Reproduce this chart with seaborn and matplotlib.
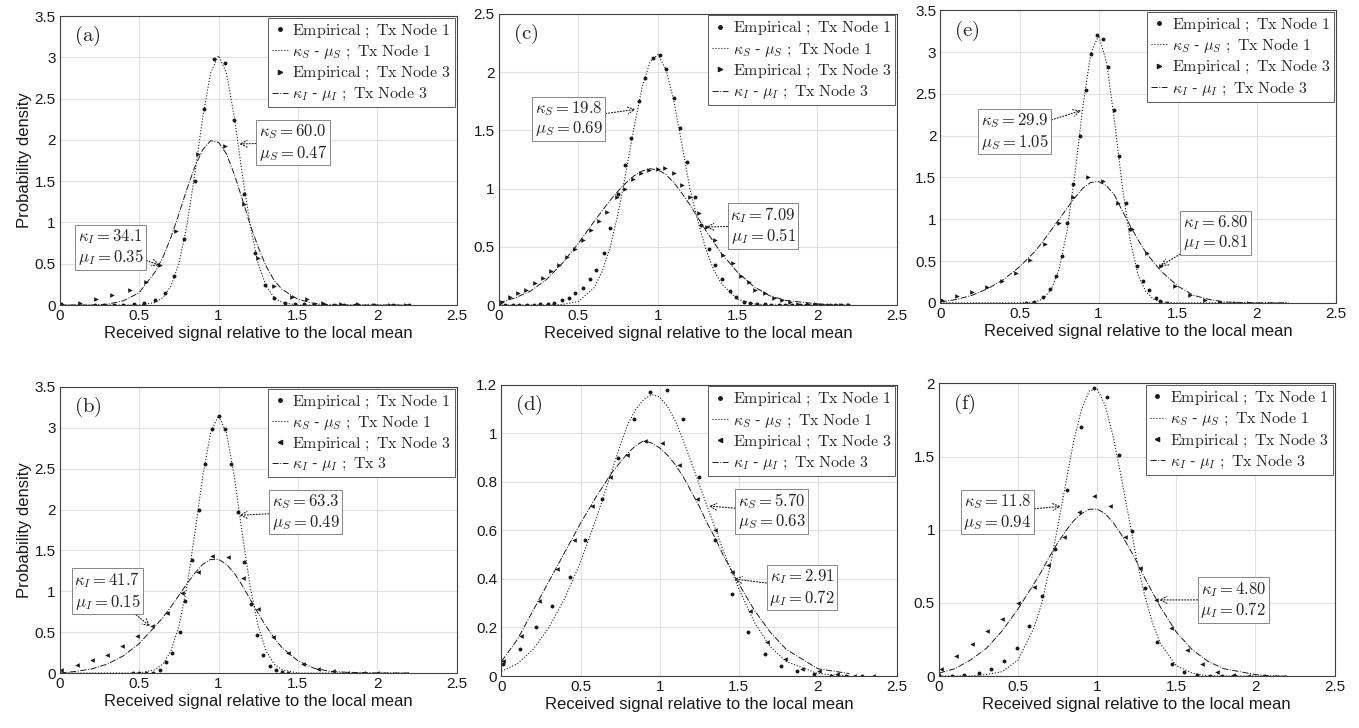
import numpy as np
import pandas as pd
import seaborn as sns
import matplotlib
matplotlib.use('Agg')
import matplotlib.pyplot as plt
from matplotlib.lines import Line2D

# x grid of the fitted kappa-mu curves
curve_x = [0.0, 0.1, 0.2, 0.3, 0.4, 0.5, 0.6, 0.65, 0.7, 0.75, 0.8, 0.85, 0.9, 0.95, 1.0,
           1.05, 1.1, 1.15, 1.2, 1.25, 1.3, 1.35, 1.4, 1.5, 1.6, 1.7, 1.8, 2.0, 2.1, 2.2]

# (a)
a_emp1_x = [0.01, 0.22, 0.28, 0.34, 0.40, 0.47, 0.53, 0.60, 0.66, 0.72, 0.78, 0.85, 0.91, 0.97, 1.04, 1.10,
            1.16, 1.23, 1.29, 1.35, 1.42, 1.48, 1.54, 1.60, 1.67, 1.73, 1.79, 1.86, 1.98, 2.10, 2.20]
a_emp1_y = [0.01, 0.0, 0.0, 0.0, 0.0, 0.01, 0.02, 0.06, 0.14, 0.35, 0.80, 1.50, 2.38, 2.98, 2.93, 2.24,
            1.35, 0.63, 0.24, 0.09, 0.03, 0.01, 0.01, 0.01, 0.0, 0.0, 0.0, 0.0, 0.0, 0.0, 0.0]
a_emp3_x = [0.01, 0.13, 0.23, 0.33, 0.44, 0.54, 0.63, 0.73, 0.87, 1.04, 1.16, 1.25, 1.35, 1.46, 1.56,
            1.66, 1.77, 1.88, 1.98, 2.08, 2.18]
a_emp3_y = [0.01, 0.02, 0.07, 0.12, 0.18, 0.28, 0.48, 0.90, 1.83, 1.92, 1.22, 0.57, 0.23, 0.10, 0.07,
            0.03, 0.01, 0.01, 0.0, 0.0, 0.0]
a_fit_S = [0, 0, 0, 0, 0, 0.0, 0.03, 0.09, 0.23, 0.50, 0.96, 1.58, 2.27, 2.81, 3.02,
           2.81, 2.27, 1.58, 0.96, 0.50, 0.23, 0.09, 0.03, 0.0, 0, 0, 0, 0, 0, 0]
a_fit_I = [0, 0, 0, 0.01, 0.05, 0.15, 0.40, 0.58, 0.82, 1.10, 1.40, 1.67, 1.88, 1.99, 1.97,
           1.83, 1.58, 1.28, 0.97, 0.70, 0.47, 0.30, 0.19, 0.07, 0.02, 0, 0, 0, 0, 0]

# (c)
c_emp1_x = [0.00, 0.04, 0.09, 0.13, 0.18, 0.22, 0.26, 0.31, 0.35, 0.40, 0.44, 0.48, 0.53, 0.57, 0.61, 0.66,
            0.70, 0.75, 0.79, 0.83, 0.88, 0.92, 0.97, 1.01, 1.05, 1.10, 1.14, 1.18, 1.23, 1.27, 1.32, 1.36,
            1.40, 1.45, 1.49, 1.54, 1.58, 1.62, 1.67, 1.71, 1.76, 1.80, 1.84, 1.89, 1.93, 1.98, 2.02, 2.06,
            2.11, 2.15, 2.19]
c_emp1_y = [0, 0, 0, 0, 0, 0, 0.01, 0.01, 0.02, 0.04, 0.06, 0.10, 0.15, 0.22, 0.30, 0.45,
            0.66, 0.95, 1.20, 1.43, 1.75, 1.95, 2.12, 2.15, 2.03, 1.78, 1.52, 1.23, 0.93, 0.69, 0.48, 0.34,
            0.22, 0.12, 0.07, 0.03, 0.02, 0.01, 0.01, 0, 0, 0, 0, 0, 0, 0, 0, 0,
            0, 0, 0]
c_emp3_x = [0.02, 0.07, 0.12, 0.17, 0.23, 0.28, 0.33, 0.38, 0.43, 0.48, 0.53, 0.58, 0.63, 0.68, 0.74,
            0.79, 0.84, 0.89, 0.945, 1.0, 1.046, 1.10, 1.15, 1.20, 1.26, 1.31, 1.36, 1.41, 1.47, 1.52,
            1.57, 1.61, 1.67, 1.73, 1.78, 1.83, 1.88, 1.94, 1.99, 2.04, 2.09, 2.15, 2.20]
c_emp3_y = [0.03, 0.07, 0.10, 0.13, 0.19, 0.23, 0.29, 0.34, 0.41, 0.48, 0.56, 0.64, 0.72, 0.80, 0.93,
            1.00, 1.08, 1.13, 1.16, 1.17, 1.18, 1.13, 1.03, 0.93, 0.79, 0.67, 0.56, 0.43, 0.36, 0.25,
            0.20, 0.13, 0.10, 0.06, 0.04, 0.03, 0.01, 0.01, 0.01, 0.0, 0.0, 0.0, 0.0]
c_fit_S = [0, 0, 0, 0, 0.005, 0.03, 0.15, 0.29, 0.50, 0.79, 1.15, 1.53, 1.87, 2.09, 2.15,
           2.02, 1.75, 1.38, 1.00, 0.72, 0.48, 0.30, 0.18, 0.05, 0.01, 0, 0, 0, 0, 0]
c_fit_I = [0.02, 0.06, 0.12, 0.22, 0.36, 0.53, 0.72, 0.81, 0.90, 0.98, 1.05, 1.11, 1.15, 1.17, 1.16,
           1.12, 1.05, 0.96, 0.86, 0.75, 0.64, 0.54, 0.44, 0.28, 0.16, 0.08, 0.04, 0.01, 0, 0]

# (e)
e_emp1_x = [0.54, 0.59, 0.65, 0.69, 0.73, 0.77, 0.80, 0.84, 0.88, 0.92, 0.95, 0.99, 1.03, 1.06, 1.10,
            1.13, 1.17, 1.20, 1.24, 1.28, 1.32, 1.36, 1.39, 1.43]
e_emp1_y = [0.0, 0.01, 0.07, 0.16, 0.32, 0.56, 0.95, 1.42, 2.0, 2.54, 2.98, 3.2, 3.15, 2.82, 2.31,
            1.76, 1.2, 0.88, 0.44, 0.26, 0.15, 0.06, 0.02, 0.0]
e_emp3_x = [0.01, 0.105, 0.2, 0.295, 0.39, 0.48, 0.564, 0.66, 0.75, 0.84, 0.933, 1.027, 1.12, 1.21,
            1.305, 1.394, 1.484, 1.58, 1.674, 1.77, 1.86, 1.95]
e_emp3_y = [0.03, 0.08, 0.13, 0.19, 0.26, 0.36, 0.51, 0.70, 0.96, 1.27, 1.5, 1.46, 1.2, 0.88,
            0.60, 0.44, 0.20, 0.09, 0.03, 0.01, 0.0, 0.0]
e_fit_S = [0, 0, 0, 0, 0, 0, 0.01, 0.05, 0.16, 0.40, 0.85, 1.54, 2.34, 2.98, 3.2,
           2.88, 2.18, 1.39, 0.74, 0.33, 0.13, 0.04, 0.01, 0, 0, 0, 0, 0, 0, 0]
e_fit_I = [0.01, 0.04, 0.09, 0.17, 0.28, 0.43, 0.62, 0.74, 0.87, 1.0, 1.13, 1.26, 1.37, 1.44, 1.45,
           1.40, 1.29, 1.10, 0.92, 0.75, 0.60, 0.48, 0.37, 0.20, 0.09, 0.04, 0.01, 0, 0, 0]

# (b)
b_emp1_x = [0.46, 0.50, 0.54, 0.59, 0.63, 0.67, 0.71, 0.755, 0.79, 0.834, 0.874, 0.916, 0.958, 1.0,
            1.04, 1.08, 1.12, 1.163, 1.205, 1.243, 1.283, 1.325, 1.363, 1.40, 1.44]
b_emp1_y = [0, 0, 0, 0, 0.04, 0.13, 0.25, 0.50, 0.88, 1.38, 2.0, 2.56, 2.98, 3.15,
            2.99, 2.56, 1.97, 1.36, 0.85, 0.47, 0.22, 0.09, 0.04, 0.01, 0.0]
b_emp3_x = [0.01, 0.11, 0.205, 0.30, 0.39, 0.486, 0.583, 0.677, 0.77, 0.87, 0.96, 1.06, 1.153, 1.247,
            1.342, 1.436, 1.53, 1.625, 1.72, 1.81, 1.91, 2.0]
b_emp3_y = [0.04, 0.10, 0.16, 0.22, 0.33, 0.45, 0.58, 0.74, 0.98, 1.24, 1.43, 1.42, 1.16, 0.78,
            0.44, 0.24, 0.11, 0.05, 0.02, 0.0, 0.0, 0.0]
b_fit_S = [0, 0, 0, 0, 0, 0, 0.04, 0.11, 0.27, 0.57, 1.05, 1.70, 2.40, 2.94, 3.15,
           2.94, 2.40, 1.70, 1.05, 0.57, 0.27, 0.11, 0.04, 0, 0, 0, 0, 0, 0, 0]
b_fit_I = [0, 0.02, 0.05, 0.11, 0.21, 0.36, 0.57, 0.68, 0.81, 0.95, 1.09, 1.22, 1.33, 1.39, 1.39,
           1.33, 1.22, 1.07, 0.90, 0.73, 0.57, 0.43, 0.31, 0.15, 0.06, 0.02, 0.01, 0, 0, 0]

# (d)
d_emp1_x = [0.01, 0.116, 0.218, 0.32, 0.433, 0.53, 0.634, 0.734, 0.835, 0.937, 1.047, 1.148, 1.247,
            1.353, 1.459, 1.558, 1.664, 1.77, 1.87, 1.977, 2.08, 2.18, 2.28]
d_emp1_y = [0.05, 0.11, 0.20, 0.29, 0.41, 0.56, 0.73, 0.90, 1.06, 1.17, 1.18, 1.06, 0.82,
            0.56, 0.34, 0.18, 0.09, 0.04, 0.02, 0.01, 0.0, 0.0, 0.0]
d_emp3_x = [0.01, 0.123, 0.237, 0.35, 0.46, 0.57, 0.683, 0.793, 0.905, 1.015, 1.125, 1.237, 1.35,
            1.46, 1.57, 1.68, 1.79, 1.90, 2.01, 2.12, 2.23, 2.35]
d_emp3_y = [0.06, 0.165, 0.31, 0.44, 0.56, 0.70, 0.82, 0.91, 0.97, 0.96, 0.87, 0.73, 0.60,
            0.43, 0.27, 0.14, 0.07, 0.03, 0.02, 0.01, 0.0, 0.0]
d_fit_S = [0.02, 0.05, 0.11, 0.20, 0.32, 0.47, 0.65, 0.75, 0.85, 0.95, 1.04, 1.10, 1.14, 1.16, 1.15,
           1.11, 1.05, 0.97, 0.88, 0.79, 0.70, 0.61, 0.52, 0.36, 0.22, 0.12, 0.06, 0.01, 0.005, 0]
d_fit_I = [0.06, 0.15, 0.27, 0.39, 0.51, 0.63, 0.74, 0.79, 0.84, 0.88, 0.92, 0.95, 0.97, 0.96, 0.94,
           0.91, 0.87, 0.82, 0.76, 0.70, 0.63, 0.57, 0.50, 0.38, 0.27, 0.18, 0.11, 0.03, 0.02, 0.01]

# (f)
f_emp1_x = [0.0, 0.08, 0.16, 0.25, 0.33, 0.41, 0.49, 0.57, 0.65, 0.73, 0.81, 0.895, 0.98, 1.06, 1.14,
            1.22, 1.30, 1.38, 1.47, 1.55, 1.63, 1.71, 1.79, 1.87]
f_emp1_y = [0.01, 0.0, 0.01, 0.02, 0.05, 0.10, 0.19, 0.34, 0.55, 0.87, 1.27, 1.70, 1.97, 1.91, 1.51,
            0.99, 0.60, 0.23, 0.08, 0.03, 0.01, 0, 0, 0]
f_emp3_x = [0.015, 0.11, 0.21, 0.305, 0.40, 0.50, 0.60, 0.69, 0.787, 0.885, 0.98, 1.078, 1.175, 1.27,
            1.373, 1.467, 1.566, 1.66, 1.758, 1.857, 1.95, 2.05]
f_emp3_y = [0.05, 0.14, 0.22, 0.31, 0.39, 0.50, 0.61, 0.76, 0.95, 1.12, 1.23, 1.16, 0.95, 0.74,
            0.52, 0.33, 0.18, 0.08, 0.03, 0.01, 0.0, 0.0]
f_fit_S = [0, 0, 0, 0.01, 0.03, 0.11, 0.33, 0.50, 0.74, 1.02, 1.31, 1.60, 1.82, 1.95, 1.96,
           1.85, 1.64, 1.37, 1.08, 0.79, 0.55, 0.36, 0.22, 0.07, 0.02, 0, 0, 0, 0, 0]
f_fit_I = [0.02, 0.05, 0.11, 0.19, 0.31, 0.46, 0.63, 0.72, 0.82, 0.91, 0.99, 1.06, 1.11, 1.14, 1.14,
           1.11, 1.05, 0.97, 0.88, 0.78, 0.67, 0.57, 0.47, 0.30, 0.18, 0.10, 0.05, 0.01, 0, 0]

# fitted parameters shown in the boxes
kappa_S = {'a': '60.0', 'b': '63.3', 'c': '19.8', 'd': '5.70', 'e': '29.9', 'f': '11.8'}
mu_S = {'a': '0.47', 'b': '0.49', 'c': '0.69', 'd': '0.63', 'e': '1.05', 'f': '0.94'}
kappa_I = {'a': '34.1', 'b': '41.7', 'c': '7.09', 'd': '2.91', 'e': '6.80', 'f': '4.80'}
mu_I = {'a': '0.35', 'b': '0.15', 'c': '0.51', 'd': '0.72', 'e': '0.81', 'f': '0.72'}

sns.set_theme(style='whitegrid')
plt.rcParams['font.family'] = ['Liberation Sans', 'DejaVu Sans']
plt.rcParams['mathtext.fontset'] = 'cm'

fig = plt.figure(figsize=(13.59, 7.28), dpi=100)

panels = [
    # key, axes rect, ymax, ystep, tri marker, S-box centre, S-arrow tip, I-box centre, I-arrow tip
    ('a', [0.044, 0.581, 0.292, 0.397], 3.5, 0.5, '>', (1.47, 1.97), (1.13, 1.95), (0.32, 0.70), (0.63, 0.48),
     a_emp1_x, a_emp1_y, a_emp3_x, a_emp3_y, a_fit_S, a_fit_I),
    ('c', [0.367, 0.581, 0.293, 0.400], 2.5, 0.5, '>', (0.44, 1.60), (0.86, 1.68), (1.66, 0.68), (1.30, 0.67),
     c_emp1_x, c_emp1_y, c_emp3_x, c_emp3_y, c_fit_S, c_fit_I),
    ('e', [0.692, 0.584, 0.291, 0.402], 3.5, 0.5, '>', (0.47, 2.05), (0.89, 2.30), (1.74, 0.84), (1.39, 0.44),
     e_emp1_x, e_emp1_y, e_emp3_x, e_emp3_y, e_fit_S, e_fit_I),
    ('b', [0.044, 0.0755, 0.292, 0.393], 3.5, 0.5, '<', (1.55, 1.97), (1.13, 1.93), (0.30, 1.00), (0.57, 0.57),
     b_emp1_x, b_emp1_y, b_emp3_x, b_emp3_y, b_fit_S, b_fit_I),
    ('d', [0.369, 0.0714, 0.291, 0.400], 1.2, 0.2, '<', (1.71, 0.68), (1.31, 0.70), (1.90, 0.365), (1.47, 0.40),
     d_emp1_x, d_emp1_y, d_emp3_x, d_emp3_y, d_fit_S, d_fit_I),
    ('f', [0.691, 0.0714, 0.291, 0.402], 2.0, 0.5, '<', (0.37, 1.12), (0.77, 1.16), (1.86, 0.52), (1.39, 0.52),
     f_emp1_x, f_emp1_y, f_emp3_x, f_emp3_y, f_fit_S, f_fit_I),
]

for (key, rect, ymax, ystep, tri, s_txt, s_tip, i_txt, i_tip,
     e1x, e1y, e3x, e3y, fS, fI) in panels:
    ax = fig.add_axes(rect)
    emp1 = pd.DataFrame({'x': e1x, 'y': e1y})
    emp3 = pd.DataFrame({'x': e3x, 'y': e3y})
    fit = pd.DataFrame({'x': curve_x, 'S': fS, 'I': fI})

    sns.lineplot(data=fit, x='x', y='S', ax=ax, color='k', lw=0.8, ls=':', estimator=None)
    sns.lineplot(data=fit, x='x', y='I', ax=ax, color='k', lw=0.7, ls='-.', estimator=None)
    sns.scatterplot(data=emp1, x='x', y='y', ax=ax, marker='o', s=8, color='k', linewidth=0)
    sns.scatterplot(data=emp3, x='x', y='y', ax=ax, marker=tri, s=11, color='k', linewidth=0)

    ax.set_xlim(0, 2.5)
    ax.set_ylim(0, ymax)
    ax.set_xticks(np.arange(0, 2.51, 0.5))
    ax.set_xticklabels(['0', '0.5', '1', '1.5', '2', '2.5'])
    yt = np.arange(0, ymax + 1e-9, ystep)
    ax.set_yticks(yt)
    ax.set_yticklabels(['%g' % v for v in yt])
    ax.tick_params(labelsize=11, direction='in', length=3, pad=3, colors='0.1')
    ax.grid(True, color='0.88', lw=0.8)
    for sp in ax.spines.values():
        sp.set_color('0.25')
        sp.set_linewidth(0.8)

    ax.set_xlabel('Received signal relative to the local mean', fontsize=12, labelpad=2, color='0.1')
    if key in ('a', 'b'):
        ax.set_ylabel('Probability density', fontsize=12, labelpad=2, color='0.1')
    else:
        ax.set_ylabel('')

    ax.text(0.035, 0.93, r'$\mathrm{(%s)}$' % key, transform=ax.transAxes,
            fontsize=15, ha='left', va='center')

    tx3 = r'$\mathrm{;\ Tx\ 3}$' if key == 'b' else r'$\mathrm{;\ Tx\ Node\ 3}$'
    handles = [
        Line2D([], [], ls='none', marker='o', ms=2.5, color='k'),
        Line2D([], [], ls=':', lw=0.8, color='k'),
        Line2D([], [], ls='none', marker=tri, ms=3, color='k'),
        Line2D([], [], ls='-.', lw=0.7, color='k'),
    ]
    labels = [
        r'$\mathrm{Empirical\ ;\ Tx\ Node\ 1}$',
        r'$\kappa_S$ - $\mu_S$ $\mathrm{;\ Tx\ Node\ 1}$',
        r'$\mathrm{Empirical\ ;\ Tx\ Node\ 3}$',
        r'$\kappa_I$ - $\mu_I$ ' + tx3,
    ]
    leg = ax.legend(handles, labels, loc='upper right', fontsize=11.5, handlelength=1.0,
                    handletextpad=0.3, labelspacing=0.2, borderpad=0.25, borderaxespad=0.1,
                    frameon=True, fancybox=False, framealpha=1, edgecolor='0.35')
    leg.get_frame().set_linewidth(0.7)

    box = dict(boxstyle='square,pad=0.15', fc='white', ec='0.45', lw=0.6)
    arrow = dict(arrowstyle='->', ls=':', lw=0.8, color='k', shrinkA=0, shrinkB=0)
    ax.annotate(r'$\kappa_S = %s$' % kappa_S[key] + '\n' + r'$\mu_S = %s$' % mu_S[key],
                xy=s_tip, xytext=s_txt, fontsize=12, ha='center', va='center',
                bbox=box, arrowprops=arrow, linespacing=1.1)
    ax.annotate(r'$\kappa_I = %s$' % kappa_I[key] + '\n' + r'$\mu_I = %s$' % mu_I[key],
                xy=i_tip, xytext=i_txt, fontsize=12, ha='center', va='center',
                bbox=box, arrowprops=arrow, linespacing=1.1)

fig.savefig('out.png', dpi=100, facecolor='white')
